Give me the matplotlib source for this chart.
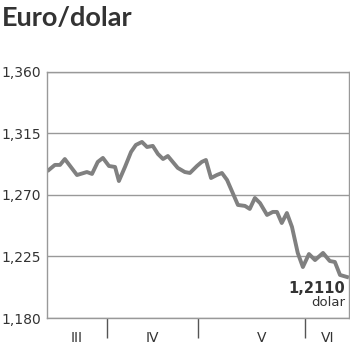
import numpy as np
import matplotlib.pyplot as plt

# Euro/dollar rate, x in approximate days from start of March
days = [0.6, 2.5, 4.1, 5.6, 9.4, 12.5, 14.1, 15.9, 17.5, 19.4, 21.3, 22.5,
        24.4, 26.3, 27.8, 29.7, 31.3, 33.1, 34.7, 36.3, 37.8, 40.9, 43.1,
        44.7, 46.9, 48.4, 49.7, 51.3, 53.1, 54.7, 56.3, 59.7, 61.9, 63.4,
        65.0, 66.6, 68.8, 70.6, 71.9, 73.4, 75.0, 76.6, 78.4, 80.0, 81.9,
        83.8, 86.3, 88.4, 90.0, 91.6, 93.8]
rate = [1.2883, 1.2920, 1.2920, 1.2963, 1.2846, 1.2868, 1.2854, 1.2942,
        1.2971, 1.2912, 1.2905, 1.2802, 1.2905, 1.3015, 1.3066, 1.3088,
        1.3051, 1.3059, 1.3000, 1.2963, 1.2985, 1.2898, 1.2868, 1.2861,
        1.2912, 1.2942, 1.2956, 1.2824, 1.2846, 1.2861, 1.2810, 1.2627,
        1.2620, 1.2598, 1.2678, 1.2641, 1.2554, 1.2576, 1.2576, 1.2495,
        1.2568, 1.2466, 1.2276, 1.2173, 1.2268, 1.2224, 1.2276, 1.2217,
        1.2210, 1.2115, 1.2100]

yticks = [1.180, 1.225, 1.270, 1.315, 1.360]
ytick_labels = ["1,180", "1,225", "1,270", "1,315", "1,360"]

month_bounds = [18.75, 47.2, 80.6]
month_centers = [9.4, 33.1, 67.2, 87.8]
month_labels = ["III", "IV", "V", "VI"]

grey = "#999999"
dark = "#333333"

fig = plt.figure(figsize=(3.5, 3.51), dpi=100)
ax = fig.add_axes([0.134, 0.094, 0.863, 0.701])

ax.plot(days, rate, color="#808080", linewidth=2.8, solid_joinstyle="round")

ax.set_xlim(0, 94.4)
ax.set_ylim(1.180, 1.360)

ax.set_yticks(yticks)
ax.set_yticklabels(ytick_labels)
ax.tick_params(axis="y", length=0, pad=4, labelsize=10, labelcolor=dark)
ax.grid(axis="y", color=grey, linewidth=1)
ax.set_axisbelow(True)

# month boundaries as long ticks, month names as minor tick labels
ax.set_xticks(month_bounds)
ax.set_xticklabels([])
ax.tick_params(axis="x", which="major", length=14.5, width=1, color="#555555",
               direction="out")
ax.set_xticks(month_centers, minor=True)
ax.set_xticklabels(month_labels, minor=True)
ax.tick_params(axis="x", which="minor", length=0, pad=9, labelsize=10,
               labelcolor=dark)

for side in ["left", "right", "top", "bottom"]:
    ax.spines[side].set_color(grey)
    ax.spines[side].set_linewidth(1)

ax.text(93.2, 1.2110 - 0.0092, "1,2110", ha="right", va="center",
        fontsize=10.5, fontweight="bold", color=dark)
ax.text(93.2, 1.2110 - 0.0195, "dolar", ha="right", va="center",
        fontsize=9.5, color=dark)

fig.text(0.005, 0.95, "Euro/dolar", fontsize=19.5, fontweight="bold",
         family="Lato", color=dark, va="center", ha="left")

fig.savefig("out.png", dpi=100)
